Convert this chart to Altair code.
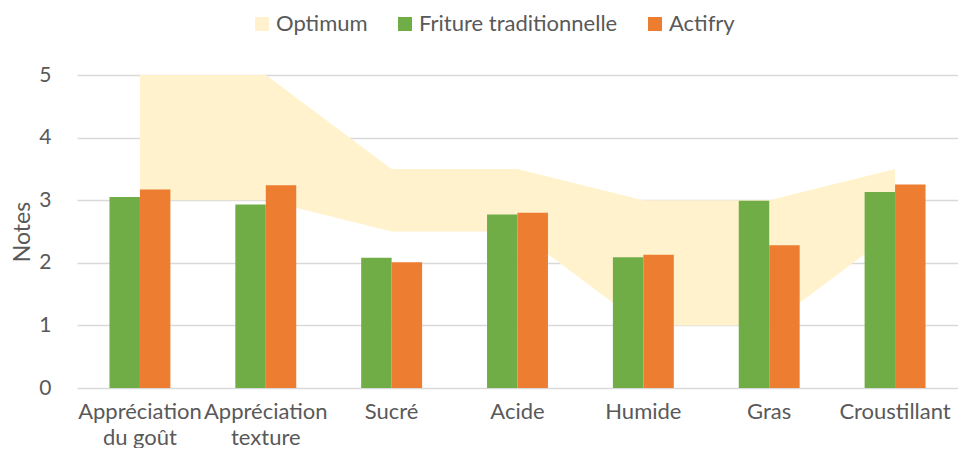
import altair as alt
import pandas as pd

categories = ["Appréciation du goût", "Appréciation texture", "Sucré", "Acide",
              "Humide", "Gras", "Croustillant"]
friture = [3.05, 2.93, 2.08, 2.77, 2.09, 2.99, 3.13]
actifry = [3.17, 3.24, 2.01, 2.80, 2.13, 2.28, 3.25]
opt_low = [3, 3, 2.5, 2.5, 1, 1, 2.5]
opt_high = [5, 5, 3.5, 3.5, 3, 3, 3.5]
series_names = ["Optimum", "Friture traditionnelle", "Actifry"]
colors = ["#FFF2CC", "#70AD47", "#ED7D31"]
y_ticks = [0, 1, 2, 3, 4, 5]

bars_df = pd.DataFrame({
    "cat": categories * 2,
    "series": ["Friture traditionnelle"] * len(categories) + ["Actifry"] * len(categories),
    "value": friture + actifry,
})
band_df = pd.DataFrame({
    "cat": categories,
    "series": ["Optimum"] * len(categories),
    "low": opt_low,
    "high": opt_high,
})

TXT = "#595959"
label_expr = ("datum.value == 'Appréciation du goût' ? ['Appréciation', 'du goût'] : "
              "datum.value == 'Appréciation texture' ? ['Appréciation', 'texture'] : datum.value")

x_enc = alt.X(
    "cat:N", sort=categories, title=None,
    scale=alt.Scale(paddingInner=0.516, paddingOuter=0.258),
    axis=alt.Axis(labelExpr=label_expr, labelAngle=0, labelFontSize=22, labelColor=TXT,
                  labelPadding=13, labelLineHeight=26, labelLimit=0, domain=False,
                  ticks=False, grid=False),
)
y_scale = alt.Scale(domain=[0, 5], nice=False)
y_axis = alt.Axis(values=y_ticks, title="Notes", titleFontSize=23, titleFontWeight="normal",
                  titleColor=TXT, titleX=-55, titleY=156.5, titleAngle=270,
                  titleAlign="center", titleBaseline="middle",
                  labelFontSize=21, labelColor=TXT, labelPadding=26, ticks=False,
                  domain=False, grid=True, gridColor="#D9D9D9", gridWidth=1.3)
color_enc = alt.Color(
    "series:N",
    scale=alt.Scale(domain=series_names, range=colors),
    legend=alt.Legend(title=None, orient="none", direction="horizontal",
                      legendX=174, legendY=-62, symbolType="square", symbolSize=196,
                      symbolStrokeWidth=0, labelFontSize=22, labelColor=TXT,
                      labelLimit=0, labelOffset=3, columnPadding=26, symbolOpacity=1),
)

band = alt.Chart(band_df).mark_area(opacity=1, interpolate="linear").encode(
    x=x_enc,
    y=alt.Y("low:Q", scale=y_scale, axis=y_axis),
    y2="high:Q",
    color=color_enc,
)

bars = alt.Chart(bars_df).mark_bar(opacity=1).encode(
    x=x_enc,
    xOffset=alt.XOffset("series:N", sort=["Friture traditionnelle", "Actifry"],
                        scale=alt.Scale(paddingInner=0, paddingOuter=0)),
    y=alt.Y("value:Q", scale=y_scale, axis=y_axis),
    color=color_enc,
)

chart = alt.layer(band, bars).properties(
    width=881, height=313,
    autosize=alt.AutoSizeParams(type="none"),
    padding={"left": 69, "top": 67, "right": 0, "bottom": 60},
).configure(font="Lato").configure_view(stroke=None)

chart.save("out.html", embed_options={"renderer": "svg", "actions": False})
